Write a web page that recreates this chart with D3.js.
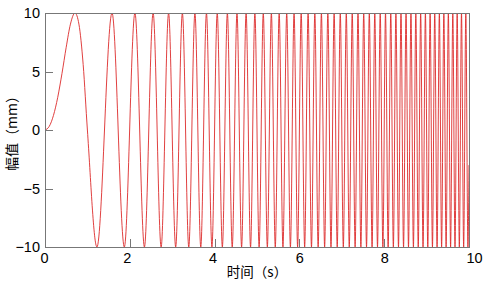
<!DOCTYPE html>
<html>
<head>
<meta charset="utf-8">
<script src="https://cdn.jsdelivr.net/npm/d3@7"></script>
<style>
body { margin: 0; background: #fff; }
svg { display: block; }
</style>
</head>
<body>
<svg width="491" height="285"></svg>
<script>
var margin = { top: 13, right: 22, bottom: 38, left: 45 },
	width = 491 - margin.left - margin.right,
	height = 285 - margin.top - margin.bottom;

// times (s) of the crests (+10 mm) and troughs (-10 mm)
var crestTimes = [0.707, 1.581, 2.121, 2.550, 2.915, 3.240, 3.536, 3.808, 4.062, 4.301,
	4.528, 4.743, 4.950, 5.148, 5.339, 5.523, 5.701, 5.874, 6.042, 6.205,
	6.364, 6.519, 6.671, 6.819, 6.964, 7.106, 7.246, 7.382, 7.517, 7.649,
	7.778, 7.906, 8.031, 8.155, 8.276, 8.396, 8.515, 8.631, 8.746, 8.860,
	8.972, 9.083, 9.192, 9.301, 9.407, 9.513, 9.618, 9.721, 9.823, 9.925];
var troughTimes = [1.225, 1.871, 2.345, 2.739, 3.082, 3.391, 3.674, 3.937, 4.183, 4.416,
	4.637, 4.848, 5.050, 5.244, 5.431, 5.612, 5.788, 5.958, 6.124, 6.285,
	6.442, 6.595, 6.745, 6.892, 7.036, 7.176, 7.314, 7.450, 7.583, 7.714,
	7.842, 7.969, 8.093, 8.216, 8.337, 8.456, 8.573, 8.689, 8.803, 8.916,
	9.028, 9.138, 9.247, 9.354, 9.460, 9.566, 9.670, 9.772, 9.874, 9.975];
var amplitude = 10;
// the slow first lobe and the end of the trace
var firstLobe = [[0, 0], [0.1, 0.31], [0.2, 1.25], [0.3, 2.79], [0.4, 4.82], [0.5, 7.07],
	[0.6, 9.05], [0.8, 9.05], [0.9, 5.6], [1.0, 0]];
var endPoints = [[10, -3]];

var xTicks = [0, 2, 4, 6, 8, 10],
	yTicks = [-10, -5, 0, 5, 10];

var data = firstLobe
	.concat(crestTimes.map(function(t) { return [t, amplitude]; }))
	.concat(troughTimes.map(function(t) { return [t, -amplitude]; }))
	.concat(endPoints)
	.sort(function(a, b) { return a[0] - b[0]; });

var x = d3.scaleLinear().domain([0, 10]).range([0, width]);
var y = d3.scaleLinear().domain([-10, 10]).range([height, 0]);

var svg = d3
	.select("svg")
	.append("g")
	.attr("transform", "translate(" + margin.left + "," + margin.top + ")");

svg
	.append("defs")
	.append("clipPath")
	.attr("id", "clip")
	.append("rect")
	.attr("width", width)
	.attr("height", height);

var xaxis = svg
	.append("g")
	.attr("class", "x-axis")
	.attr("transform", "translate(0," + height + ")")
	.call(d3.axisBottom(x).tickValues(xTicks).tickSize(-8).tickPadding(6));

var yaxis = svg
	.append("g")
	.attr("class", "y-axis")
	.call(d3.axisLeft(y).tickValues(yTicks).tickSize(-8).tickPadding(5));

d3.selectAll(".domain").remove();
d3.selectAll(".tick line").attr("stroke", "#777").attr("shape-rendering", "crispEdges");
d3.selectAll(".tick text")
	.attr("font-family", "'Liberation Sans', Arial, sans-serif")
	.attr("font-size", 14.5)
	.attr("fill", "#000");

// the x labels sit a little off their ticks in the original
xaxis.selectAll(".tick text").attr("dx", function(d) {
	return d === 0 ? -1 : d === 10 ? 5 : d === 2 ? -3 : d === 4 ? -2 : 0;
});

var line = d3
	.line()
	.x(function(d) { return x(d[0]); })
	.y(function(d) { return y(d[1]); })
	.curve(d3.curveMonotoneX);

svg
	.append("path")
	.datum(data)
	.attr("clip-path", "url(#clip)")
	.attr("fill", "none")
	.attr("stroke", "#dc2a2a")
	.attr("stroke-width", 0.9)
	.attr("d", line);

// axes box
svg
	.append("rect")
	.attr("x", 0.5)
	.attr("y", 0.5)
	.attr("width", width)
	.attr("height", height - 0.5)
	.attr("fill", "none")
	.attr("stroke", "#777")
	.attr("stroke-width", 1)
	.attr("shape-rendering", "crispEdges");

svg
	.append("text")
	.attr("x", width / 2)
	.attr("y", height + 30)
	.attr("text-anchor", "middle")
	.attr("font-family", "'Noto Sans CJK SC', sans-serif")
	.attr("font-size", 13.5)
	.text("时间（s）");

svg
	.append("text")
	.attr("transform", "translate(" + (-28) + "," + height / 2 + ") rotate(-90)")
	.attr("text-anchor", "middle")
	.attr("font-family", "'Noto Sans CJK SC', sans-serif")
	.attr("font-size", 14)
	.text("幅值（mm）");
</script>
</body>
</html>
